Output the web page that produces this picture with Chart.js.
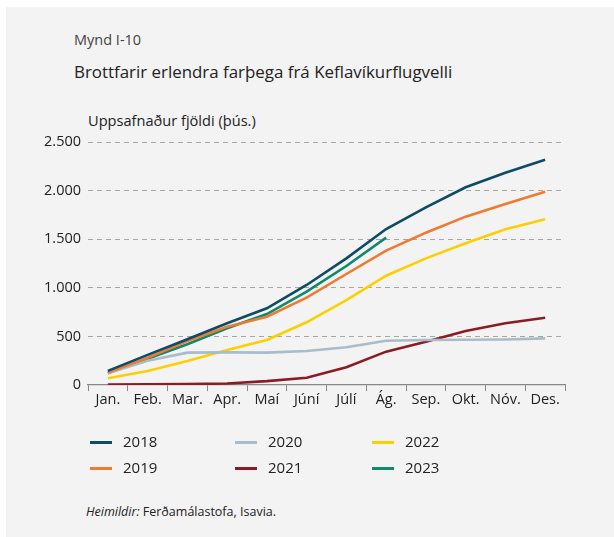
<!DOCTYPE html>
<html>
<head>
<meta charset="utf-8">
<script src="https://cdn.jsdelivr.net/npm/chart.js@4/dist/chart.umd.min.js"></script>
<style>
  html, body { margin:0; padding:0; background:#ffffff; width:614px; height:537px; overflow:hidden; }
  body { font-family: "Open Sans", "Noto Sans", sans-serif; color:#333; }
  #panel { position:absolute; left:6px; top:7px; width:608px; height:530px; background:#f3f3f3; }
  .txt { position:absolute; white-space:nowrap; }
  #fig { left:74px; top:30px; font-size:14.5px; color:#444; }
  #title { left:74px; top:60px; font-size:16.9px; color:#222; }
  #ylab { left:88px; top:110px; font-size:14.6px; color:#222; }
  #src { left:86px; top:503px; font-size:12.5px; color:#222; }
  #wrap { position:absolute; left:0; top:0; width:614px; height:537px; }
  #legend { position:absolute; left:0; top:0; }
  .li { position:absolute; height:20px; }
  .li .sw { position:absolute; left:0; top:9px; width:22px; height:3px; }
  .li .lt { position:absolute; left:33px; top:-1px; font-size:15px; color:#222; }
</style>
</head>
<body>
<div id="panel"></div>
<div class="txt" id="fig">Mynd I-10</div>
<div class="txt" id="title">Brottfarir erlendra farþega frá Keflavíkurflugvelli</div>
<div class="txt" id="ylab">Uppsafnaður fjöldi (þús.)</div>
<div class="txt" id="src"><i>Heimildir:</i> Ferðamálastofa, Isavia.</div>
<div id="wrap"><canvas id="c" width="614" height="537"></canvas></div>
<div id="legend"></div>
<script>
const months = ['Jan.','Feb.','Mar.','Apr.','Maí','Júní','Júlí','Ág.','Sep.','Okt.','Nóv.','Des.'];
const yearLabels = ['2018','2019','2020','2021','2022','2023'];
const y2018 = [145, 310, 470, 635, 789, 1029, 1303, 1605, 1828, 2034, 2184, 2318];
const y2019 = [127, 281, 453, 600, 703, 898, 1142, 1382, 1567, 1732, 1862, 1989];
const y2020 = [120, 250, 333, 336, 333, 350, 388, 456, 463, 465, 468, 480];
const y2021 = [5, 8, 10, 15, 40, 75, 182, 343, 446, 556, 635, 692];
const y2022 = [69, 144, 247, 360, 463, 645, 874, 1124, 1303, 1458, 1602, 1705];
const y2023 = [120, 270, 419, 583, 730, 960, 1224, 1516, null, null, null, null];
const yTickLabels = {0:'0', 500:'500', 1000:'1.000', 1500:'1.500', 2000:'2.000', 2500:'2.500'};
const colors = ['#0d4b67','#f07a30','#a9bccb','#8c1c24','#fcd000','#11896c'];

const series = [y2018, y2019, y2020, y2021, y2022, y2023];
const datasets = series.map((d, i) => ({
  label: yearLabels[i],
  data: d,
  borderColor: colors[i],
  backgroundColor: colors[i],
  borderWidth: 2.6,
  pointRadius: 0,
  tension: 0,
  fill: false,
  spanGaps: false
}));

const FONT = '"Open Sans", "Noto Sans", sans-serif';

new Chart(document.getElementById('c'), {
  type: 'line',
  data: { labels: months, datasets },
  options: {
    responsive: false,
    animation: false,
    layout: { padding: { top: 142, right: 49, left: 0, bottom: 0 } },
    plugins: { legend: { display: false }, tooltip: { enabled: false }, title: { display: false } },
    scales: {
      x: {
        offset: true,
        grid: { display: true, drawOnChartArea: false, drawTicks: true, tickLength: 6, offset: true, color: '#888', lineWidth: 1 },
        border: { display: true, color: '#888', width: 1.2 },
        ticks: { color: '#222', font: { family: FONT, size: 14.5 }, padding: 0, maxRotation: 0, autoSkip: false },
        afterFit: (s) => { s.height = 152; }
      },
      y: {
        min: 0, max: 2500,
        grid: { display: true, drawTicks: false, color: (ctx) => ctx.tick && ctx.tick.value === 0 ? 'rgba(0,0,0,0)' : '#a6a6a6', lineWidth: 1 },
        border: { display: false, dash: [5, 4] },
        ticks: { stepSize: 500, color: '#222', font: { family: FONT, size: 14.5 }, padding: 7,
                 callback: (v) => yTickLabels[v] !== undefined ? yTickLabels[v] : '' },
        afterFit: (s) => { s.width = 88; }
      }
    }
  }
});

// HTML legend built from the dataset list
const legendPos = [
  {x: 90, y: 432}, {x: 90, y: 458},
  {x: 235, y: 432}, {x: 235, y: 458},
  {x: 372, y: 432}, {x: 372, y: 458}
];
const lg = document.getElementById('legend');
yearLabels.forEach((lab, i) => {
  const d = document.createElement('div');
  d.className = 'li';
  d.style.left = legendPos[i].x + 'px';
  d.style.top = legendPos[i].y + 'px';
  d.innerHTML = '<span class="sw" style="background:' + colors[i] + '"></span><span class="lt">' + lab + '</span>';
  lg.appendChild(d);
});
</script>
</body>
</html>
